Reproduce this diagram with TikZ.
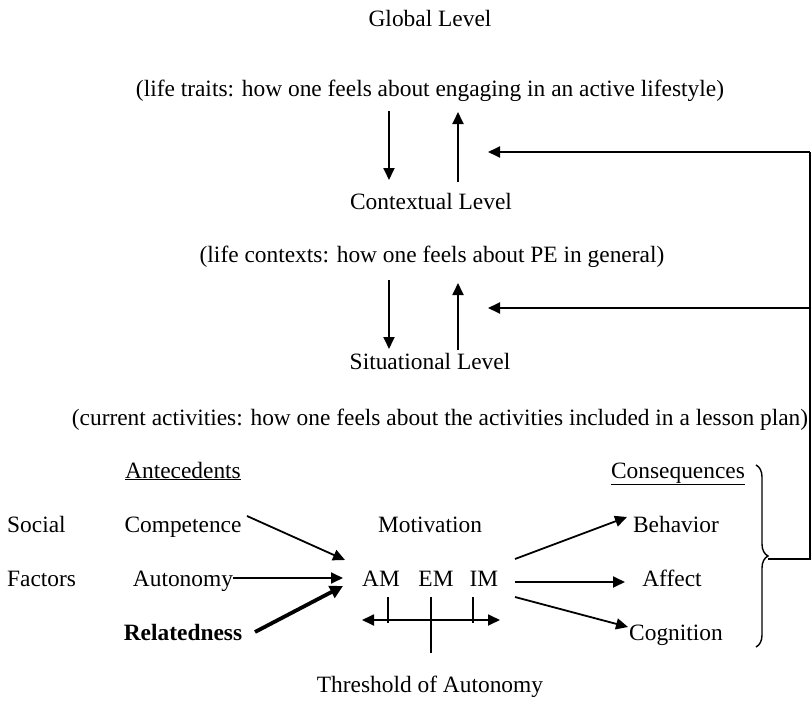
\documentclass[tikz,border=0pt]{standalone}
\usepackage{fontspec}
\setmainfont{Liberation Serif}
\usetikzlibrary{arrows.meta,decorations.pathreplacing}
\begin{document}
\begin{tikzpicture}[x=1pt,y=-1pt,
  txt/.style={inner sep=0pt,anchor=base,font=\fontsize{23.4}{28}\selectfont},
  txtw/.style={txt,anchor=base west},
  conn/.style={line width=1.8pt,-{Triangle[length=12pt,width=11pt]}},
  plain/.style={line width=1.8pt},
  thickconn/.style={line width=3.8pt,-{Triangle[length=13pt,width=13pt]}},
  dbl/.style={line width=1.8pt,{Triangle[length=12pt,width=11pt]}-{Triangle[length=12pt,width=11pt]}}]
\useasboundingbox (0,0) rectangle (812,701);
% levels
\node[txt] (glob) at (430,27) {Global Level};
\node[txt] (trait) at (430,96) {(life traits: how one feels about engaging in an active lifestyle)};
\node[txt] (ctx) at (431,209) {Contextual Level};
\node[txt] (ctxd) at (432,262) {(life contexts: how one feels about PE in general)};
\node[txt] (sit) at (430,369) {Situational Level};
\node[txt] (sitd) at (440,425) {(current activities: how one feels about the activities included in a lesson plan)};
% lower section
\node[txt] (ante) at (183,478) {\underline{Antecedents}};
\node[txt] (cons) at (678,478) {\underline{Consequences}};
\node[txtw] (soc) at (7,532) {Social};
\node[txtw] (fac) at (7,586) {Factors};
\node[txt] (comp) at (183,532) {Competence};
\node[txt] (auto) at (183,586) {Autonomy};
\node[txt] (rel) at (183,640) {\bfseries Relatedness};
\node[txt] (mot) at (430,532) {Motivation};
\node[txt] (am) at (381,586) {AM};
\node[txt] (em) at (436,586) {EM};
\node[txt] (im) at (484,586) {IM};
\node[txt] (beh) at (676,532) {Behavior};
\node[txt] (aff) at (672,586) {Affect};
\node[txt] (cog) at (676,640) {Cognition};
\node[txt] (thr) at (430,692) {Threshold of Autonomy};
% coordinates for connector ends
\coordinate (d1s) at (389,111); \coordinate (d1e) at (389,180);
\coordinate (u1s) at (458,182); \coordinate (u1e) at (458,112);
\coordinate (d2s) at (389,280); \coordinate (d2e) at (389,349);
\coordinate (u2s) at (458,350); \coordinate (u2e) at (458,283);
\coordinate (f1) at (488,152); \coordinate (f2) at (488,308);
\coordinate (rt) at (810,152); \coordinate (rm) at (810,308); \coordinate (rb) at (810,559);
\coordinate (bt) at (756,465); \coordinate (bb) at (756,647); \coordinate (btip) at (768,559);
\coordinate (c1) at (247,516); \coordinate (a1) at (345,560);
\coordinate (c2) at (233,578); \coordinate (a2) at (343,578);
\coordinate (c3) at (255,632); \coordinate (a3) at (343,586);
\coordinate (m1) at (515,559); \coordinate (b1) at (627,517);
\coordinate (m2) at (515,582); \coordinate (b2) at (625,582);
\coordinate (m3) at (515,597); \coordinate (b3) at (628,627);
\coordinate (sl) at (362,620); \coordinate (sr) at (500,620);
% level arrows
\draw[conn] (d1s) -- (d1e);
\draw[conn] (u1s) -- (u1e);
\draw[conn] (d2s) -- (d2e);
\draw[conn] (u2s) -- (u2e);
% feedback loop
\draw[decorate,decoration={brace,amplitude=12pt},line width=1.4pt] (bt) -- (bb);
\draw[plain] (btip) -- (rb) -- (rt);
\draw[conn] (rt) -- (f1);
\draw[conn] (rm) -- (f2);
% antecedents to motivation
\draw[conn] (c1) -- (a1);
\draw[conn] (c2) -- (a2);
\draw[thickconn] (c3) -- (a3);
% motivation to consequences
\draw[conn] (m1) -- (b1);
\draw[conn] (m2) -- (b2);
\draw[conn] (m3) -- (b3);
% continuum
\draw[dbl] (sl) -- (sr);
\draw[line width=1.2pt] (388,597) -- (388,623);
\draw[line width=1.2pt] (431,597) -- (431,653);
\draw[line width=1.2pt] (473,597) -- (473,623);
\end{tikzpicture}
\end{document}
